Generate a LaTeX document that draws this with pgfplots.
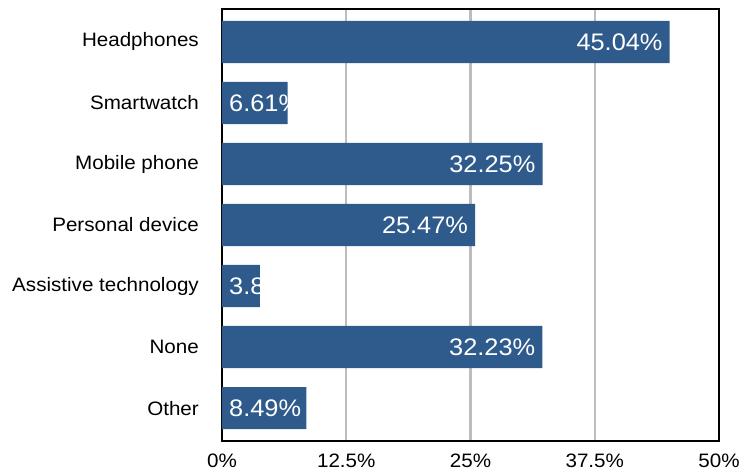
\documentclass[border=0pt]{standalone}
\usepackage{pgfplots}
\pgfplotsset{compat=1.18}
\usepackage{fontspec}
\setmainfont[FakeStretch=1.06]{Liberation Sans}
\definecolor{barblue}{HTML}{2E5A8C}
\definecolor{gridgray}{HTML}{BDBDBD}
\begin{document}
\begin{tikzpicture}
\begin{axis}[
  scale only axis, width=497bp, height=432bp,
  xmin=0, xmax=50, ymin=-0.54, ymax=6.54, y dir=reverse,
  xtick={0,12.5,25,37.5,50},
  xticklabels={0\%,12.5\%,25\%,37.5\%,50\%},
  ytick={0,1,2,3,4,5,6},
  yticklabels={Headphones,Smartwatch,Mobile phone,Personal device,Assistive technology,None,Other},
  xmajorgrids, major grid style={gridgray, line width=2.4bp},
  axis line style={line width=2.4bp},
  tick style={draw=none},
  ticklabel style={font=\fontsize{19.5}{23}\selectfont, inner sep=0pt},
  yticklabel shift=23bp,
  xticklabel shift=13bp,
  clip=false,
]
\addplot[xbar, bar width=0.69, fill=barblue, draw=none] coordinates {
  (45.04,0) (6.61,1) (32.25,2) (25.47,3) (3.8,4) (32.23,5) (8.49,6)
};
\addplot[draw=none, mark=none, nodes near coords, point meta=explicit symbolic,
  nodes near coords align={anchor=east},
  every node near coord/.append style={white, font=\fontsize{24}{28}\selectfont, xshift=-7bp, inner sep=0pt}]
  coordinates {
  (45.04,0) [45.04\%]
  (32.25,2) [32.25\%]
  (25.47,3) [25.47\%]
  (32.23,5) [32.23\%]
};
\addplot[draw=none, mark=none, nodes near coords, point meta=explicit symbolic,
  nodes near coords align={anchor=west},
  every node near coord/.append style={white, font=\fontsize{24}{28}\selectfont, xshift=7bp, inner sep=0pt}]
  coordinates {
  (0,1) [6.61\%]
  (0,4) [3.8]
  (0,6) [8.49\%]
};
\end{axis}
\path ([xshift=-222bp,yshift=-33bp]current axis.south west) rectangle ([xshift=22bp,yshift=9bp]current axis.north east);
\end{tikzpicture}
\end{document}
